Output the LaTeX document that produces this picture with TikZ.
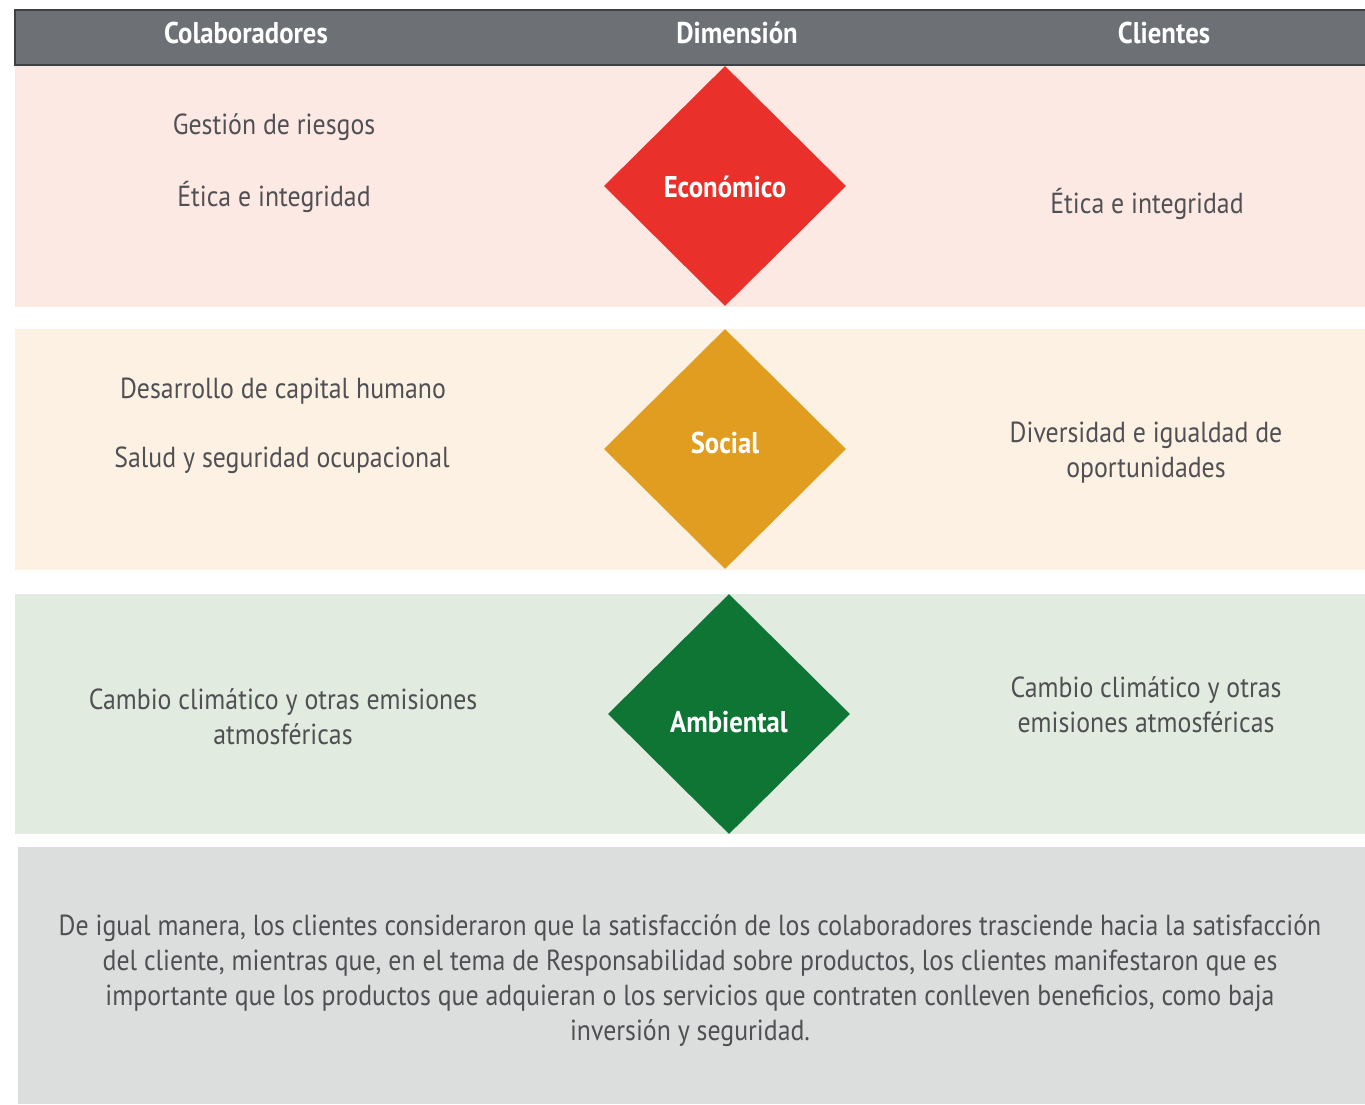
\documentclass[tikz,border=0pt]{standalone}
\usepackage{fontspec}
\setmainfont{PT Sans}[FakeStretch=0.89]
\usetikzlibrary{shapes.geometric}

\definecolor{hdrgray}{RGB}{109,112,117}
\definecolor{hdrline}{RGB}{62,64,67}
\definecolor{txtgray}{RGB}{80,80,84}
\definecolor{ecobg}{RGB}{253,233,228}
\definecolor{socbg}{RGB}{252,241,227}
\definecolor{ambbg}{RGB}{225,235,223}
\definecolor{notebg}{RGB}{220,221,221}
\definecolor{ecored}{RGB}{233,48,43}
\definecolor{socorange}{RGB}{224,157,31}
\definecolor{ambgreen}{RGB}{15,117,53}

\begin{document}
\begin{tikzpicture}[x=1pt,y=-1pt,
  hdr/.style={text=white,font=\fontsize{30}{34}\selectfont\bfseries},
  lbl/.style={text=txtgray,align=center,yshift=-3pt,font=\fontsize{29}{35}\selectfont},
  dia/.style={diamond,inner sep=0pt,minimum width=242pt,minimum height=240pt},
  dialbl/.style={text=white,font=\fontsize{30}{34}\selectfont\bfseries}]
\useasboundingbox (0,0) rectangle (1365,1104);

% header row
\filldraw[fill=hdrgray,draw=hdrline,line width=1.2pt] (15,10) rectangle (1366,65);
\node[hdr] (colab) at (246,33) {Colaboradores};
\node[hdr] (dim) at (737,33) {Dimensión};
\node[hdr] (cli) at (1164,33) {Clientes};

% one band per dimension
\fill[ecobg] (15,66) rectangle (1365,307);
\fill[socbg] (15,329) rectangle (1365,570);
\fill[ambbg] (15,594) rectangle (1365,834);
\fill[notebg] (18,847) rectangle (1365,1104);

\node[dia,fill=ecored] (eco) at (725,186) {};
\node[dia,fill=socorange] (soc) at (725,449) {};
\node[dia,fill=ambgreen] (amb) at (729,714) {};
\node[dialbl] (ecolbl) at (725,187) {Económico};
\node[dialbl] (soclbl) at (725,443) {Social};
\node[dialbl] (amblbl) at (729,722) {Ambiental};

% economico
\node[lbl] (riesgos) at (274,124) {Gestión de riesgos};
\node[lbl] (etica) at (274,194) {Ética e integridad};
\node[lbl] (eticacli) at (1147,201) {Ética e integridad};

% social
\node[lbl] (capital) at (283,388) {Desarrollo de capital humano};
\node[lbl] (salud) at (282,457) {Salud y seguridad ocupacional};
\node[lbl] (diversidad) at (1146,450) {Diversidad e igualdad de\\oportunidades};

% ambiental
\node[lbl] (clima) at (283,714) {Cambio climático y otras emisiones\\atmosféricas};
\node[lbl] (climacli) at (1146,702) {Cambio climático y otras\\emisiones atmosféricas};

% nota final
\node[lbl] (nota) at (690,978) {De igual manera, los clientes consideraron que la satisfacción de los colaboradores trasciende hacia la satisfacción\\
del cliente, mientras que, en el tema de Responsabilidad sobre productos, los clientes manifestaron que es\\
importante que los productos que adquieran o los servicios que contraten conlleven beneficios, como baja\\
inversión y seguridad.};
\end{tikzpicture}
\end{document}
